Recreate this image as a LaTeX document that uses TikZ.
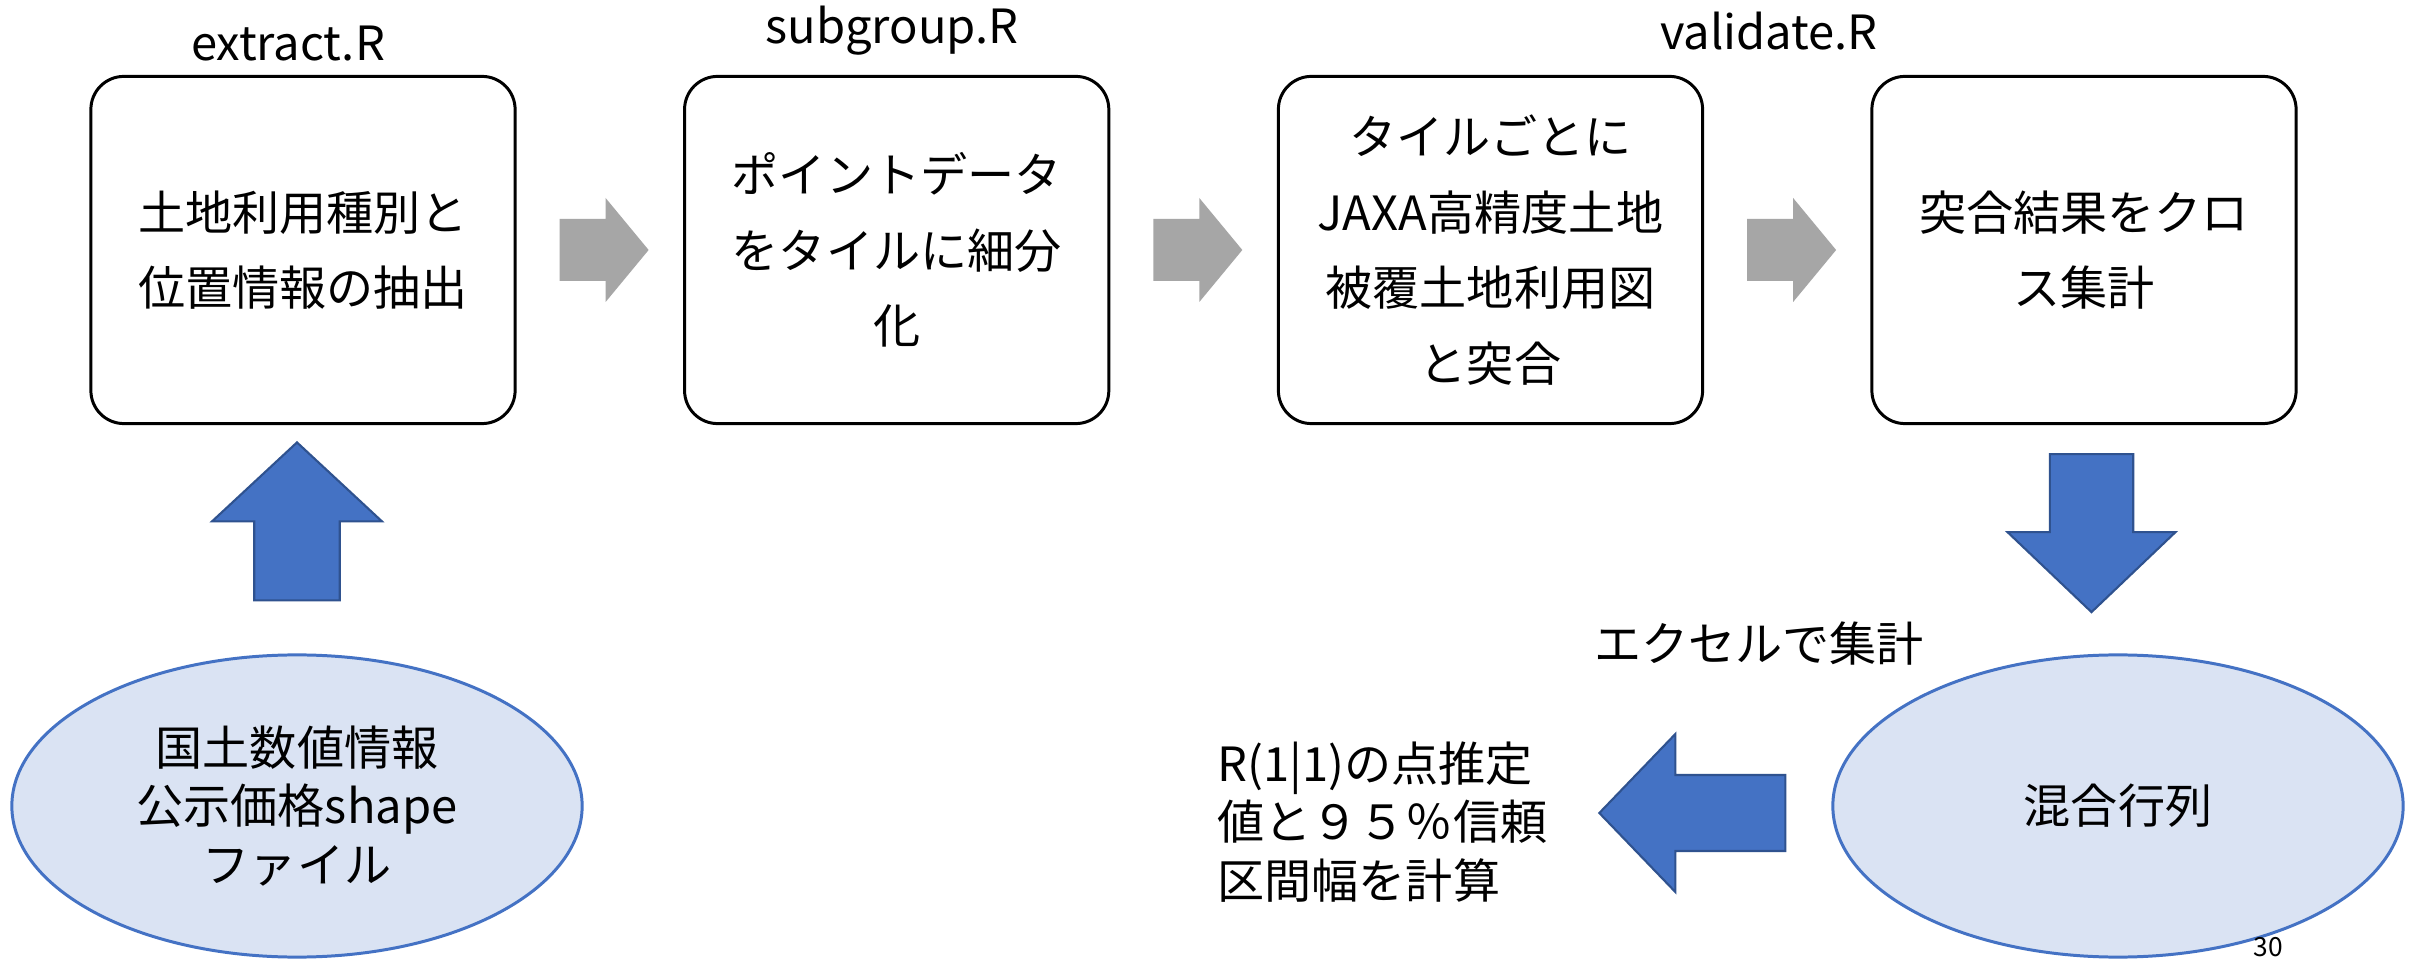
\documentclass[tikz,border=0pt]{standalone}
\usepackage{fontspec}
\setmainfont{Noto Sans CJK JP}
\usepackage{tikz}
\usetikzlibrary{calc,shapes.geometric}

\definecolor{ofblue}{HTML}{4472C4}
\definecolor{ofblueline}{HTML}{2F528F}
\definecolor{lightblue}{HTML}{DAE3F3}
\definecolor{arrowgray}{HTML}{A6A6A6}

\tikzset{
  procbox/.style={draw,line width=0.85pt,rounded corners=0.33cm,
    minimum width=4.24cm,minimum height=3.47cm,align=center,
    font=\fontsize{13.4}{21.5}\selectfont},
  datanode/.style={ellipse,draw=ofblue,fill=lightblue,line width=0.85pt,
    minimum width=5.7cm,minimum height=3.02cm,align=center,
    font=\fontsize{13.4}{16.6}\selectfont},
  scriptname/.style={font=\fontsize{13.4}{16}\selectfont},
  grayarr/.style={fill=arrowgray},
  bluearr/.style={fill=ofblue,draw=ofblueline,line width=0.6pt}
}

\begin{document}
\begin{tikzpicture}[x=0.01cm,y=0.01cm]
    \useasboundingbox (0,0) rectangle (2417,960);
    \fill[white] (0,0) rectangle (2417,960);

    \node[procbox] (ext) at (303,710) {土地利用種別と\\位置情報の抽出};
    \node[procbox] (sub) at (896.7,710) {ポイントデータ\\をタイルに細分\\化};
    \node[procbox] (val) at (1490.5,710) {タイルごとに\\JAXA高精度土地\\被覆土地利用図\\と突合};
    \node[procbox] (cross) at (2084,710) {突合結果をクロ\\ス集計};

    \node[scriptname] (extR) at (288,916) {extract.R};
    \node[scriptname] (subR) at (892,929) {subgroup.R};
    \node[scriptname] (valR) at (1769,929) {validate.R};

    \foreach \a in {ext,sub,val}
        \fill[grayarr] ($(\a.east)+(43,31)$) -- ++(46,0) -- ++(0,21) -- ++(43,-52)
            -- ++(-43,-52) -- ++(0,21) -- ++(-46,0) -- cycle;

    \node[datanode] (shp) at (297,154) {国土数値情報\\公示価格shape\\ファイル};
    \node[datanode] (mix) at (2118,154) {混合行列};

    \draw[bluearr] ($(shp.north)+(-42.7,53)$) -- ++(0,79) -- ++(-42.3,0) -- ++(85,79)
        -- ++(85,-79) -- ++(-42.3,0) -- ++(0,-79) -- cycle;
    \draw[bluearr] ($(cross.south)+(-34.2,-29)$) -- ++(0,-78) -- ++(-42.3,0) -- ++(84,-80)
        -- ++(84,80) -- ++(-42.3,0) -- ++(0,78) -- cycle;
    \draw[bluearr] ($(mix.west)+(-46,31)$) -- ++(-110,0) -- ++(0,41) -- ++(-76,-79)
        -- ++(76,-79) -- ++(0,41) -- ++(110,0) -- cycle;

    \node[scriptname] (xls) at (1759,316) {エクセルで集計};
    \node[anchor=west,align=left,font=\fontsize{13.4}{16.6}\selectfont] (res) at (1205,138)
        {R(1|1)の点推定\\値と９５％信頼\\区間幅を計算};
    \node[font=\fontsize{7.5}{9}\selectfont] (pg) at (2268,13) {30};
\end{tikzpicture}
\end{document}
